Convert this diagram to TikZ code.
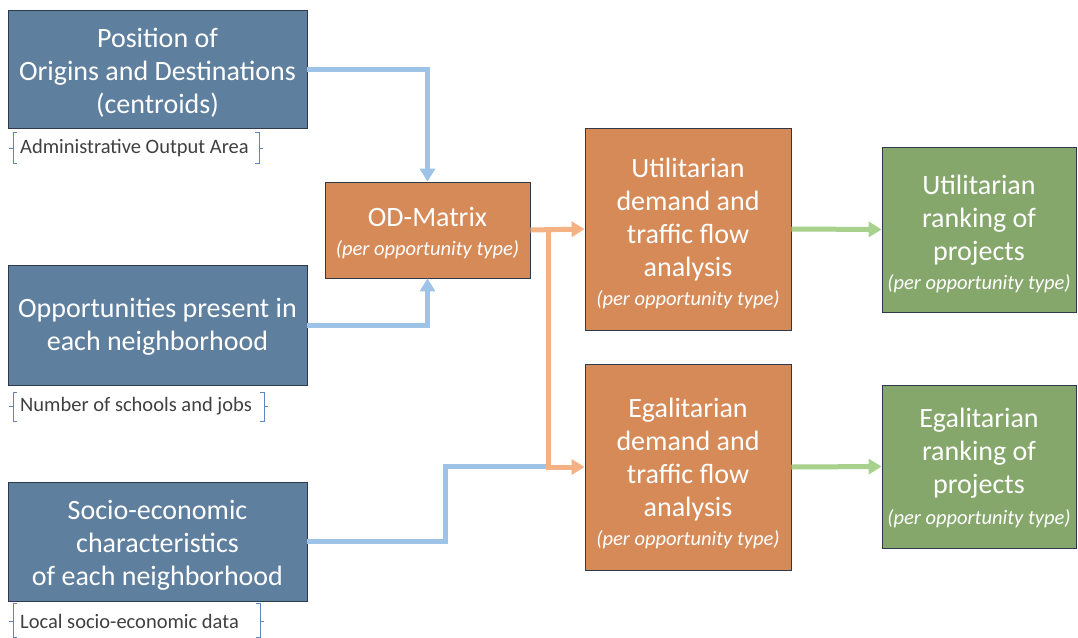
\documentclass[tikz,border=0pt]{standalone}
\usepackage{fontspec}
\setmainfont{Carlito}
\usetikzlibrary{arrows.meta}
\definecolor{boxblue}{HTML}{5F7F9F}
\definecolor{boxorange}{HTML}{D68A58}
\definecolor{boxgreen}{HTML}{86A76C}
\definecolor{lineblue}{HTML}{9DC3E6}
\definecolor{lineorange}{HTML}{F4B183}
\definecolor{linegreen}{HTML}{A9D18E}
\definecolor{edge}{HTML}{2E3A4C}
\definecolor{brk}{HTML}{5B86C0}
\definecolor{lbl}{HTML}{404040}
\tikzset{
  boxbase/.style={draw=edge, line width=0.8pt, inner sep=0pt},
  bluebox/.style={boxbase, fill=boxblue},
  orangebox/.style={boxbase, fill=boxorange},
  greenbox/.style={boxbase, fill=boxgreen},
  boxtext/.style={text=white, align=center, inner sep=0pt, font=\fontsize{28}{33}\selectfont},
  conn/.style={line width=5pt},
  tip/.style={-{Triangle[length=13pt,width=15pt]}},
  brace/.style={draw=brk, line width=0.8pt},
  lbltext/.style={text=lbl, font=\fontsize{20.5}{24}\selectfont, anchor=west, inner sep=0pt}
}
\newcommand{\pot}{{\fontsize{20.5}{28}\selectfont\itshape (per opportunity type)}}
\begin{document}
\begin{tikzpicture}[x=1pt,y=-1pt]
\useasboundingbox (0,0) rectangle (1078,637);
% boxes
\node[bluebox, minimum width=299pt, minimum height=118pt] (b1) at (157.5,69) {};
\node[bluebox, minimum width=299pt, minimum height=120pt] (b2) at (157.5,325) {};
\node[bluebox, minimum width=299pt, minimum height=119pt] (b3) at (157.5,541.5) {};
\node[orangebox, minimum width=205pt, minimum height=96pt] (od) at (427.5,230) {};
\node[orangebox, minimum width=206pt, minimum height=202pt] (ud) at (688,229) {};
\node[orangebox, minimum width=206pt, minimum height=206pt] (ed) at (688,467) {};
\node[greenbox, minimum width=194pt, minimum height=165pt] (ur) at (979,229.5) {};
\node[greenbox, minimum width=194pt, minimum height=163pt] (er) at (979,466.5) {};
% box texts
\node[boxtext] (b1t) at ([yshift=-4pt]b1.center) {Position of\\Origins and Destinations\\(centroids)};
\node[boxtext] (b2t) at ([yshift=-2pt]b2.center) {Opportunities present in\\each neighborhood};
\node[boxtext] (b3t) at ([yshift=-3.5pt]b3.center) {Socio-economic\\characteristics\\of each neighborhood};
\node[boxtext] (odt) at ([yshift=-3pt]od.center) {OD-Matrix\\[-4pt]\pot};
\node[boxtext] (udt) at ([yshift=-4pt]ud.center) {Utilitarian\\demand and\\traffic flow\\analysis\\[-4pt]\pot};
\node[boxtext] (edt) at ([yshift=-6pt]ed.center) {Egalitarian\\demand and\\traffic flow\\analysis\\[-4pt]\pot};
\node[boxtext] (urt) at ([yshift=-4pt]ur.center) {Utilitarian\\ranking of\\projects\\[-4pt]\pot};
\node[boxtext] (ert) at ([yshift=-1.5pt]er.center) {Egalitarian\\ranking of\\projects\\[-2pt]\pot};
% labels with brackets
\node[lbltext] (l1) at (20,148) {Administrative Output Area};
\node[lbltext] (l2) at (20,406) {Number of schools and jobs};
\node[lbltext] (l3) at (20,621) {Local socio-economic data};
\draw[brace] (17,132) -- (13,132) -- (13,163) -- (17,163) (13,148) -- (9,148);
\draw[brace] (255,132) -- (259,132) -- (259,163) -- (255,163) (259,148) -- (263,148);
\draw[brace] (17,392) -- (13,392) -- (13,421) -- (17,421) (13,406) -- (9,406);
\draw[brace] (260,392) -- (264,392) -- (264,421) -- (260,421) (264,406) -- (268,406);
\draw[brace] (17,603) -- (13,603) -- (13,637) -- (17,637) (13,621) -- (9,621);
\draw[brace] (256,603) -- (260,603) -- (260,637) -- (256,637) (260,621) -- (264,621);
% junctions
\coordinate (j1) at (548,230);
\coordinate (j2) at (548,466);
% blue connectors
\draw[conn, lineblue, tip] (b1.east) -| (od.north);
\draw[conn, lineblue, tip] (b2.east) -| (od.south);
\draw[conn, lineblue] (b3.east) -- ++(138,0) |- (j2);
% orange connectors
\draw[conn, lineorange, tip] (od.east) -- (ud.west);
\draw[conn, lineorange, tip] (j1) |- (ed.west);
% green connectors
\draw[conn, linegreen, tip] (ud.east) -- (ur.west);
\draw[conn, linegreen, tip] (ed.east) -- (er.west);
\end{tikzpicture}
\end{document}
